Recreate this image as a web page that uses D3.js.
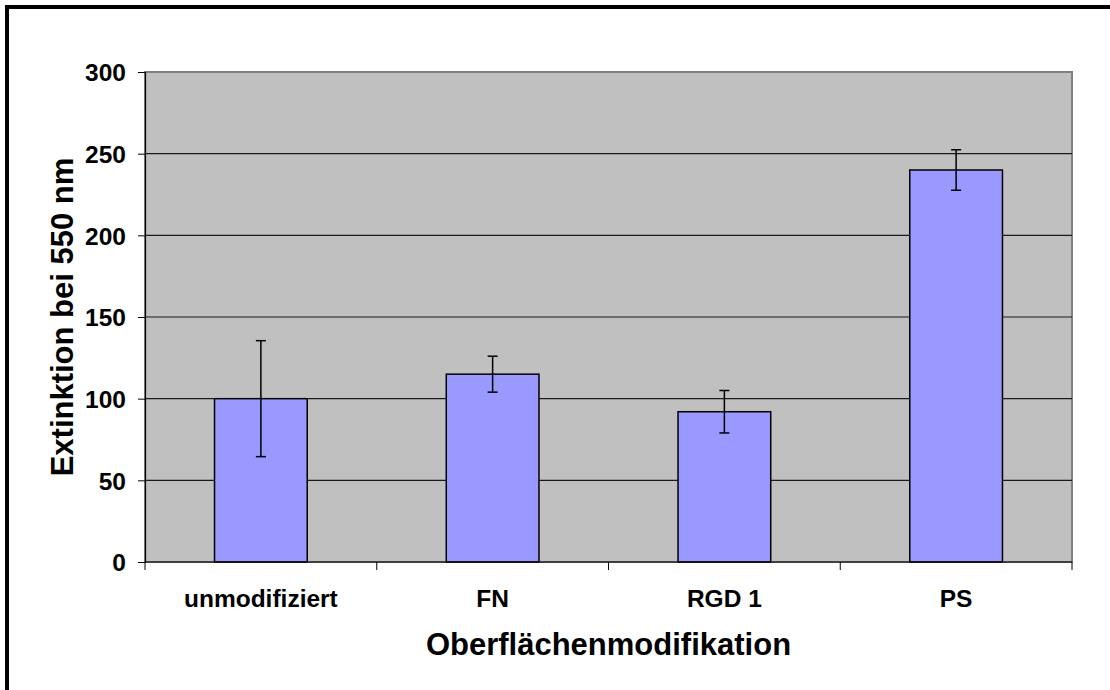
<!DOCTYPE html>
<html>
<head>
<meta charset="utf-8">
<script src="https://cdn.jsdelivr.net/npm/d3@7"></script>
<style>
  body { margin: 0; background: #fff; }
  text { font-family: "Liberation Sans", Arial, sans-serif; font-weight: bold; fill: #000; }
</style>
</head>
<body>
<svg id="svg" width="1110" height="690"></svg>
<script>
var categories = ["unmodifiziert", "FN", "RGD 1", "PS"];
var values = [100, 115, 92, 240];
var errors = [35.5, 11, 13, 12.4];
var yTicks = [0, 50, 100, 150, 200, 250, 300];

var svg = d3.select("#svg");
var pLeft = 145, pRight = 1072, pTop = 72, pBottom = 562;

// outer frame, runs off the right and bottom of the picture
svg.append("rect")
  .attr("x", 7).attr("y", 7)
  .attr("width", 1130).attr("height", 710)
  .attr("fill", "none").attr("stroke", "#000").attr("stroke-width", 4);

var x = d3.scaleBand().domain(categories).range([pLeft, pRight]).paddingInner(0).paddingOuter(0);
var y = d3.scaleLinear().domain([0, 300]).range([pBottom, pTop]);

// plot area
svg.append("rect")
  .attr("x", pLeft).attr("y", pTop)
  .attr("width", pRight - pLeft).attr("height", pBottom - pTop)
  .attr("fill", "#c0c0c0")
  .attr("stroke", "#808080").attr("stroke-width", 2);

// gridlines
svg.append("g").selectAll("line").data(yTicks.slice(1, -1)).enter()
  .append("line")
  .attr("x1", pLeft).attr("x2", pRight)
  .attr("y1", function(d) { return y(d); })
  .attr("y2", function(d) { return y(d); })
  .attr("stroke", "#1a1a1a").attr("stroke-width", 1.2);

// bars
var bw = x.bandwidth() * 0.4;
svg.append("g").selectAll("rect").data(values).enter()
  .append("rect")
  .attr("x", function(d, i) { return x(categories[i]) + x.bandwidth() / 2 - bw / 2; })
  .attr("y", function(d) { return y(d); })
  .attr("width", bw)
  .attr("height", function(d) { return y(0) - y(d); })
  .attr("fill", "#9999ff")
  .attr("stroke", "#000").attr("stroke-width", 1.5);

// error bars
var eb = svg.append("g").attr("stroke", "#000").attr("stroke-width", 1.5);
values.forEach(function(v, i) {
  var cx = x(categories[i]) + x.bandwidth() / 2;
  var hi = y(v + errors[i]), lo = y(v - errors[i]);
  eb.append("line").attr("x1", cx).attr("x2", cx).attr("y1", hi).attr("y2", lo);
  eb.append("line").attr("x1", cx - 5).attr("x2", cx + 5).attr("y1", hi).attr("y2", hi);
  eb.append("line").attr("x1", cx - 5).attr("x2", cx + 5).attr("y1", lo).attr("y2", lo);
});

// y axis
var yAxis = d3.axisLeft(y).tickValues(yTicks).tickSize(7).tickPadding(12);
var gy = svg.append("g").attr("transform", "translate(" + pLeft + ",0)").call(yAxis);
gy.select(".domain").attr("stroke", "#000").attr("stroke-width", 1.2);
gy.selectAll(".tick line").attr("stroke", "#000");
gy.selectAll("text").style("font-size", "24.5px").attr("dy", "0.36em");

// x axis with ticks between categories
svg.append("line")
  .attr("x1", pLeft).attr("x2", pRight).attr("y1", pBottom).attr("y2", pBottom)
  .attr("stroke", "#000").attr("stroke-width", 1.2);
var bounds = categories.map(function(c) { return x(c); }).concat([pRight]);
svg.append("g").selectAll("line").data(bounds).enter()
  .append("line")
  .attr("x1", function(d) { return d; }).attr("x2", function(d) { return d; })
  .attr("y1", pBottom).attr("y2", pBottom + 8)
  .attr("stroke", "#000");
svg.append("g").selectAll("text").data(categories).enter()
  .append("text")
  .attr("x", function(d) { return x(d) + x.bandwidth() / 2; })
  .attr("y", 607)
  .attr("text-anchor", "middle")
  .style("font-size", "24.5px")
  .text(function(d) { return d; });

// axis titles
svg.append("text")
  .attr("x", (pLeft + pRight) / 2).attr("y", 655)
  .attr("text-anchor", "middle")
  .style("font-size", "31px")
  .text("Oberflächenmodifikation");
svg.append("text")
  .attr("transform", "translate(73," + (pTop + pBottom) / 2 + ") rotate(-90)")
  .attr("text-anchor", "middle")
  .style("font-size", "31px")
  .text("Extinktion bei 550 nm");
</script>
</body>
</html>
